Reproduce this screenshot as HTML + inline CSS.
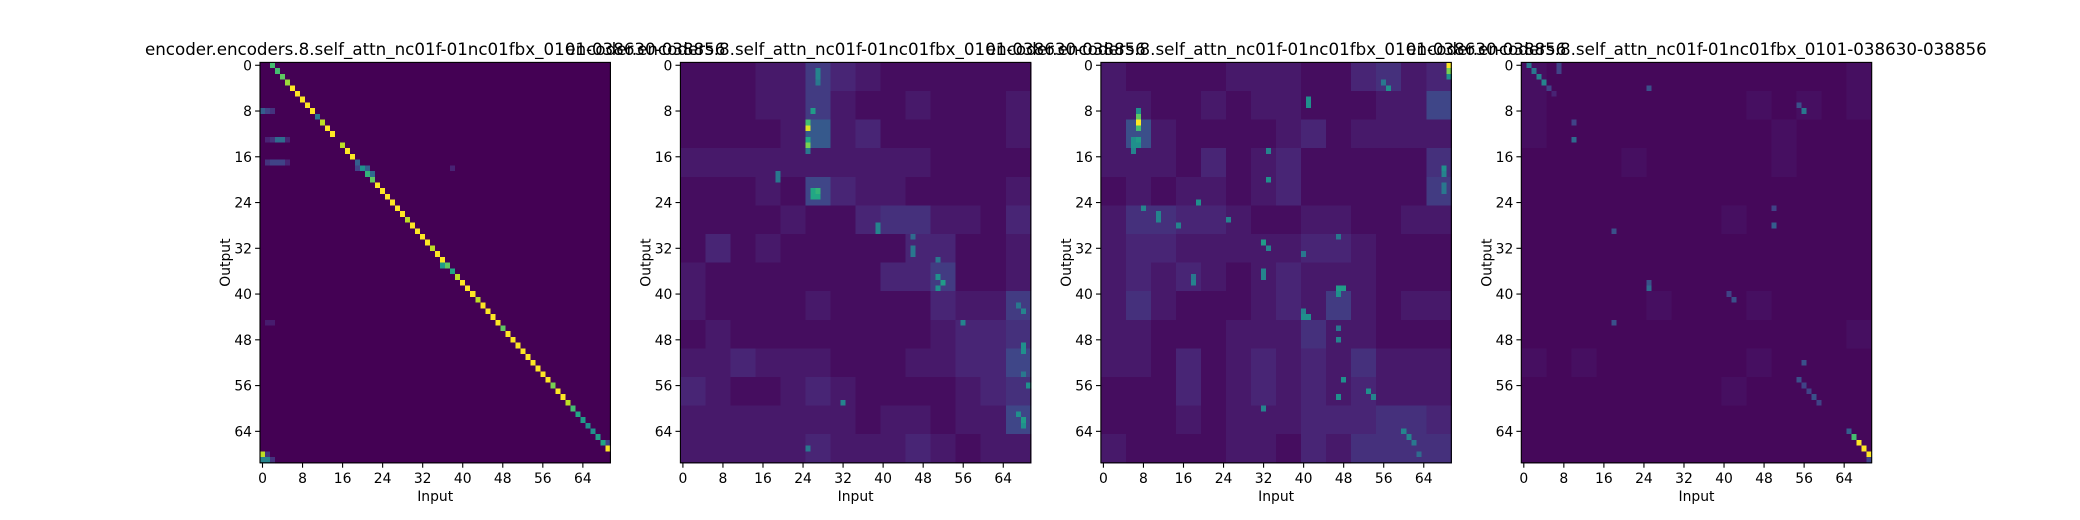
<!DOCTYPE html>
<html><head><meta charset="utf-8">
<style>
html,body{margin:0;padding:0;background:#fff;}
svg{display:block;font-family:"DejaVu Sans","Liberation Sans",sans-serif;}
</style></head>
<body>
<svg id="fig" width="2080" height="520" viewBox="0 0 2080 520" xmlns="http://www.w3.org/2000/svg">
<rect width="2080" height="520" fill="#fff"/>
</svg>
<script>
// ---------- data ----------
const titleText = "encoder.encoders.8.self_attn_nc01f-01nc01fbx_0101-038630-038856";
const tickLabels = [0, 8, 16, 24, 32, 40, 48, 56, 64];
const nCells = 70;
// panel 1: diagonal values (row r -> col r+2)
const p1Diag = [0.7,0.7,0.75,0.85,1,1,1,1,1,0.4,0.9,1,1,0.0,0.9,1,1,0.3,0.5,0.65,0.75,1,1,1,1,1,1,0.9,1,1,1,1,0.9,1,1,0.75,0.6,0.9,1,1,1,0.9,1,1,1,1,0.75,1,1,1,1,1,1,1,1,1,0.8,1,1,0.9,0.7,0.6,0.55,0.5,0.5,0.55,0.6,1];
const p1Spots = [[8,0,0.3],[8,1,0.2],[8,2,0.15],[13,1,0.1],[13,2,0.15],[13,3,0.35],[13,4,0.35],[13,5,0.1],[17,1,0.15],[17,2,0.2],[17,3,0.2],[17,4,0.2],[17,5,0.1],[18,19,0.2],[18,20,0.2],[18,21,0.3],[18,38,0.1],[19,21,0.55],[19,22,0.35],[35,36,0.55],[35,37,0.35],[45,1,0.08],[45,2,0.08],[61,63,0.2],[62,64,0.2],[63,65,0.2],[64,66,0.2],[65,67,0.25],[66,68,0.3],[66,69,0.2],[68,0,0.9],[68,1,0.15],[69,0,0.45],[69,1,0.45],[69,2,0.15]];
// panels 2-4: coarse background grid (5x5 blocks, digit scaled) + bright cells
const p2Grid = ["11122532111111","11122521121112","11112823111112","22222222221111","11121632211112","11112113442213","13121111133112","21111111335112","21111211113225","12111111112334","22322211122336","32112321111234","22222221221226","22222322232122"];
const p2Spots = [[11,25,0.95],[10,25,0.7],[13,25,0.6],[14,25,0.8],[15,25,0.4],[8,26,0.55],[1,27,0.45],[2,27,0.45],[3,27,0.4],[19,19,0.4],[20,19,0.4],[22,26,0.6],[22,27,0.65],[23,26,0.6],[23,27,0.6],[28,39,0.45],[29,39,0.45],[30,46,0.35],[32,46,0.4],[33,46,0.4],[34,51,0.4],[37,51,0.5],[38,52,0.55],[39,51,0.5],[45,56,0.45],[42,67,0.4],[43,68,0.45],[49,68,0.5],[50,68,0.5],[54,68,0.4],[56,69,0.5],[59,32,0.45],[61,67,0.5],[62,68,0.55],[63,68,0.5],[67,25,0.4]];
const p3Grid = ["21111222113423","22112122111226","27211112312222","22213123111114","12122123111115","24433211221122","23322222332111","23232123222111","24211123252122","22111222422111","22131232324222","11131232323222","11121222333443","21111221324444"];
const p3Spots = [[10,7,1.0],[9,7,0.75],[11,7,0.7],[8,7,0.5],[13,6,0.5],[13,7,0.55],[14,6,0.5],[14,7,0.5],[15,6,0.45],[0,69,1.0],[1,69,0.8],[2,69,0.5],[4,57,0.5],[3,56,0.4],[6,41,0.5],[7,41,0.5],[15,33,0.45],[20,33,0.5],[18,68,0.5],[19,68,0.45],[21,68,0.4],[22,68,0.4],[24,19,0.5],[25,8,0.45],[26,11,0.45],[27,11,0.45],[28,15,0.45],[27,25,0.45],[31,32,0.55],[32,33,0.45],[30,47,0.4],[33,40,0.4],[36,32,0.45],[37,32,0.45],[38,18,0.45],[37,18,0.4],[39,47,0.55],[39,48,0.55],[40,47,0.5],[44,40,0.5],[44,41,0.5],[43,40,0.45],[46,47,0.4],[48,47,0.45],[55,48,0.5],[57,53,0.5],[58,47,0.5],[58,54,0.45],[64,60,0.45],[65,61,0.45],[66,62,0.4],[68,63,0.35],[60,32,0.45]];
const p4Grid = ["21111111111112","21111111121212","21111111112111","11112111112111","11111111111111","11111111211111","11111111111111","11111111111111","11111211121111","11111111111112","21211111121111","11111111211111","11111111111111","11111111111111"];
const p4Spots = [[0,1,0.4],[1,2,0.4],[2,3,0.45],[3,4,0.45],[4,5,0.2],[5,6,0.1],[0,7,0.2],[1,7,0.2],[8,56,0.4],[7,55,0.25],[10,10,0.2],[13,10,0.35],[4,25,0.25],[29,18,0.25],[39,25,0.35],[38,25,0.25],[45,18,0.25],[28,50,0.3],[25,50,0.2],[40,41,0.2],[41,42,0.25],[55,55,0.25],[56,56,0.2],[57,57,0.2],[58,58,0.25],[59,59,0.2],[52,56,0.25],[64,65,0.3],[65,66,0.7],[66,67,1.0],[67,68,1.0],[68,69,1.0],[69,69,0.2]];
const gridScale = [0, 0.035, 0.035, 0.02];
// ---------- rendering ----------
const VIR=[[68,1,84],[72,35,116],[64,67,135],[52,94,141],[41,120,142],[32,144,140],[34,167,132],[68,190,112],[121,209,81],[189,222,38],[253,231,37]];
function cmap(v){v=Math.max(0,Math.min(1,v));const t=v*10,i=Math.min(9,Math.floor(t)),f=t-i;const a=VIR[i],b=VIR[i+1];return `rgb(${Math.round(a[0]+(b[0]-a[0])*f)},${Math.round(a[1]+(b[1]-a[1])*f)},${Math.round(a[2]+(b[2]-a[2])*f)})`;}
function buildMatrix(grid, scale, spots, diag){
  const m=[];
  for(let r=0;r<nCells;r++){m.push([]);for(let c=0;c<nCells;c++){m[r].push(grid?(+grid[Math.floor(r/5)][Math.floor(c/5)])*scale:0);}}
  if(diag){diag.forEach((v,r)=>{const c=r+2;if(c<nCells)m[r][c]=Math.max(m[r][c],v);});}
  spots.forEach(s=>{m[s[0]][s[1]]=Math.max(m[s[0]][s[1]],s[2]);});
  return m;
}
const panels=[buildMatrix(null,0,p1Spots,p1Diag),buildMatrix(p2Grid,gridScale[1],p2Spots),buildMatrix(p3Grid,gridScale[2],p3Spots),buildMatrix(p4Grid,gridScale[3],p4Spots)];
const NS="http://www.w3.org/2000/svg";
const svg=document.getElementById('fig');
const axW=350.4, axTop=62.4, axBot=462.8, axH=axBot-axTop;
const lefts=[260,680.4,1100.9,1521.3];
const cw=axW/nCells, ch=axH/nCells;
function xPos(left,c){return left+c*cw;}
function yPos(r){return axTop+r*ch;}
function mk(tag,attrs,parent){const e=document.createElementNS(NS,tag);for(const k in attrs)e.setAttribute(k,attrs[k]);(parent||svg).appendChild(e);return e;}
panels.forEach((m,pi)=>{
  const L=lefts[pi];
  const g=mk('g',{'shape-rendering':'crispEdges'});
  
  
  for(let r=0;r<nCells;r++)for(let c=0;c<nCells;c++){
    const rc=mk('rect',{x:xPos(L,c).toFixed(2),y:yPos(r).toFixed(2),width:(cw+0.5).toFixed(2),height:(ch+0.5).toFixed(2),fill:cmap(m[r][c])},g);
    
    
  }
  const fr=mk('rect',{x:L,y:axTop,width:axW,height:axH,fill:'none',stroke:'#000','stroke-width':1.1});
  
  
  tickLabels.forEach(t=>{
    const x=xPos(L,t+0.5), y=yPos(t+0.5);
    mk('line',{x1:x,y1:axBot,x2:x,y2:axBot+4.9,stroke:'#000','stroke-width':1.1});
    const tx=mk('text',{x:x,y:axBot+20,'font-size':13.9,'text-anchor':'middle',fill:'#000'});tx.textContent=t;
    
    
    mk('line',{x1:L-4.9,y1:y,x2:L,y2:y,stroke:'#000','stroke-width':1.1});
    const ty=mk('text',{x:L-8,y:y+5,'font-size':13.9,'text-anchor':'end',fill:'#000'});ty.textContent=t;
    
    
  });
  const xl=mk('text',{x:L+axW/2,y:axBot+38,'font-size':13.9,'text-anchor':'middle',fill:'#000'});xl.textContent='Input';
  
  
  const yc=axTop+axH/2;
  const yl=mk('text',{x:L-30,y:yc,'font-size':13.9,'text-anchor':'middle',fill:'#000',transform:`rotate(-90 ${L-30} ${yc})`});yl.textContent='Output';
  
  
  const tt=mk('text',{x:L+axW/2,y:55,'font-size':16.7,'text-anchor':'middle',fill:'#000'});tt.textContent=titleText;
  
  
});
</script>
</body></html>
